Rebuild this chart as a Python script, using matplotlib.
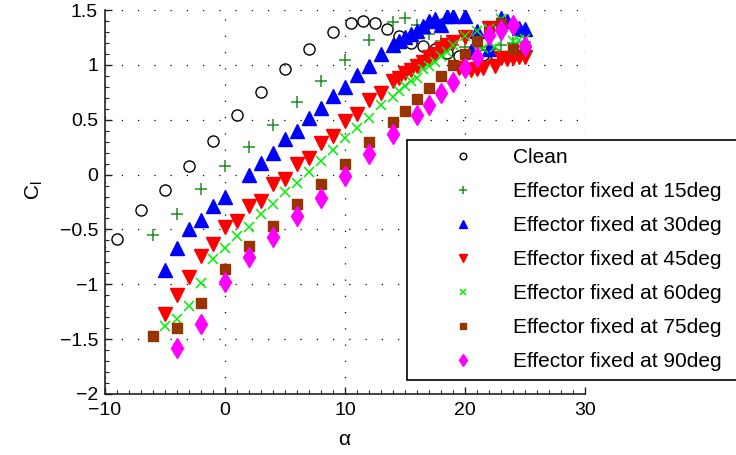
import numpy as np
import matplotlib
matplotlib.use("Agg")
import matplotlib.pyplot as plt
from matplotlib.ticker import MultipleLocator, FuncFormatter

plt.rcParams['font.family'] = ['Liberation Sans', 'DejaVu Sans']
plt.rcParams['mathtext.default'] = 'regular'

# angle of attack [deg] and lift coefficient for each configuration
a_clean = [-9, -7, -5, -3, -1, 1, 3, 5, 7, 9, 10.5, 11.5, 12.5, 13.5, 14.5,
           15.5, 16.5, 17.5, 18.5, 19.5, 20.5, 21.5, 22.5]
cl_clean = [-0.59, -0.32, -0.145, 0.08, 0.31, 0.54, 0.755, 0.96, 1.145, 1.30,
            1.38, 1.40, 1.38, 1.33, 1.265, 1.20, 1.17, 1.14, 1.11, 1.08, 1.06,
            1.09, 1.10]

a_15 = [-6, -4, -2, 0, 2, 4, 6, 8, 10, 12, 14, 15, 16, 17, 18, 19, 20, 21,
        22, 23, 24, 25]
cl_15 = [-0.555, -0.355, -0.13, 0.075, 0.255, 0.455, 0.665, 0.855, 1.045,
         1.23, 1.39, 1.43, 1.36, 1.28, 1.22, 1.18, 1.16, 1.15, 1.16, 1.18,
         1.20, 1.21]

a_30 = [-5, -4, -3, -2, -1, 0, 2, 3, 4, 5, 6, 7, 8, 9, 10, 11, 12, 13, 14,
        14.5, 15, 15.5, 16, 16.5, 17, 17.5, 18, 18.5, 19, 20, 20.5, 21, 22,
        23, 23.5, 24.5, 25]
cl_30 = [-0.87, -0.67, -0.5, -0.41, -0.29, -0.2, 0.0, 0.11, 0.2, 0.32, 0.4,
         0.52, 0.61, 0.72, 0.8, 0.91, 0.99, 1.1, 1.18, 1.22, 1.25, 1.28, 1.31,
         1.35, 1.4, 1.415, 1.36, 1.445, 1.445, 1.445, 1.13, 1.31, 1.14, 1.43,
         1.4, 1.34, 1.33]

a_45 = [-5, -4, -3, -2, -1, 0, 1, 2, 3, 4, 5, 6, 7, 8, 9, 10, 11, 12, 13,
        14, 14.5, 15, 15.5, 16, 16.5, 17, 17.5, 18, 18.5, 19, 19.5, 20, 20.5,
        21, 21.5, 22, 22.5, 23, 23.5, 24, 24.5, 25]
cl_45 = [-1.27, -1.1, -0.93, -0.745, -0.63, -0.48, -0.42, -0.29, -0.24,
         -0.09, -0.04, 0.1, 0.155, 0.29, 0.355, 0.49, 0.55, 0.68, 0.74,
         0.85, 0.88, 0.93, 0.95, 0.99, 1.03, 1.07, 1.1, 1.14, 1.18, 1.21,
         0.97, 1.25, 0.95, 0.96, 0.975, 1.34, 0.99, 1.06, 1.05, 1.06, 1.07,
         1.07]

a_60 = [-5, -4, -3, -2, -1, 0, 1, 2, 3, 4, 5, 6, 7, 8, 9, 10, 11, 12, 13,
        14, 14.5, 15, 15.5, 16, 16.5, 17, 17.5, 18, 18.5, 19, 20, 21, 21.5,
        22, 22.5, 23, 24, 24.5, 25]
cl_60 = [-1.38, -1.32, -1.2, -0.99, -0.77, -0.67, -0.56, -0.48, -0.36,
         -0.27, -0.155, -0.08, 0.02, 0.12, 0.22, 0.33, 0.42, 0.52, 0.63,
         0.71, 0.76, 0.81, 0.85, 0.88, 0.96, 0.99, 1.03, 1.08, 1.12, 1.18,
         1.26, 1.31, 1.15, 1.33, 1.16, 1.42, 1.22, 1.23, 1.24]

a_75 = [-6, -4, -2, 0, 2, 4, 6, 8, 10, 12, 14, 15, 16, 17, 18, 19, 20, 21,
        22, 23, 24, 25]
cl_75 = [-1.47, -1.4, -1.17, -0.86, -0.65, -0.465, -0.27, -0.09, 0.1, 0.3,
         0.475, 0.58, 0.69, 0.79, 0.9, 1.0, 1.1, 1.22, 1.3, 1.385, 1.14, 1.14]

a_90 = [-4, -2, 0, 2, 4, 6, 8, 10, 12, 14, 16, 17, 18, 19, 20, 21, 22, 23,
        24, 25]
cl_90 = [-1.58, -1.36, -0.98, -0.755, -0.57, -0.38, -0.215, -0.01, 0.19,
         0.37, 0.545, 0.63, 0.74, 0.84, 0.975, 1.075, 1.27, 1.32, 1.36, 1.17]

labels = ['Clean', 'Effector fixed at 15deg', 'Effector fixed at 30deg',
          'Effector fixed at 45deg', 'Effector fixed at 60deg',
          'Effector fixed at 75deg', 'Effector fixed at 90deg']


def tick_fmt(v, pos):
    return ('%g' % v).replace('-', '\u2212')


fig = plt.figure(figsize=(7.36, 4.55), dpi=100)
ax = fig.add_axes([105 / 736, 1 - 394 / 455, 480 / 736, 384 / 455])

ax.plot(a_clean, cl_clean, 'o', ms=8, mfc='none', mec='k', mew=1.0, label=labels[0])
ax.plot(a_15, cl_15, '+', ms=9, color='#228b22', mew=1.1, label=labels[1])
ax.plot(a_30, cl_30, '^', ms=9.5, color='b', mec='b', label=labels[2])
ax.plot(a_45, cl_45, 'v', ms=9.5, color='r', mec='r', label=labels[3])
ax.plot(a_60, cl_60, 'x', ms=7, color='#00ee00', mew=1.1, label=labels[4])
ax.plot(a_75, cl_75, 's', ms=7.5, color='#993300', mec='#993300', label=labels[5])
ax.plot(a_90, cl_90, 'd', ms=10, color='#ff00ff', mec='#ff00ff', label=labels[6])

ax.set_xlim(-10, 30)
ax.set_ylim(-2, 1.5)
ax.xaxis.set_major_locator(MultipleLocator(10))
ax.xaxis.set_minor_locator(MultipleLocator(1))
ax.yaxis.set_major_locator(MultipleLocator(0.5))
ax.yaxis.set_minor_locator(MultipleLocator(0.1))
ax.xaxis.set_major_formatter(FuncFormatter(tick_fmt))
ax.yaxis.set_major_formatter(FuncFormatter(tick_fmt))
ax.grid(True, which='major', color='k', linestyle=(0, (1, 12)), linewidth=0.9)

for side in ('top', 'right'):
    ax.spines[side].set_visible(False)
for side in ('left', 'bottom'):
    ax.spines[side].set_linewidth(1.2)
    ax.spines[side].set_color('#222222')
ax.tick_params(which='both', direction='in', labelsize=14, colors='#222222',
               labelcolor='black')
ax.tick_params(which='major', length=5, width=1)
ax.tick_params(which='minor', length=3, width=0.8)
ax.tick_params(axis='x', which='major', pad=6)
ax.tick_params(axis='y', which='major', pad=5)

ax.set_xlabel(r'$\alpha$', fontsize=15)
ax.set_ylabel('$C_l$', fontsize=15)
ax.xaxis.set_label_coords(0.5, -0.095)
ax.yaxis.set_label_coords(-0.125, 0.53)

leg = ax.legend(loc='upper left',
                bbox_to_anchor=(407 / 736, 1 - 140 / 455 - 0.1, 0.6, 0.1),
                bbox_transform=fig.transFigure, mode='expand', borderaxespad=0,
                fontsize=15, markerscale=0.6, numpoints=1, handlelength=4.6,
                handletextpad=0.1, borderpad=0.4, labelspacing=0.72,
                fancybox=False, framealpha=1, edgecolor='k')
leg.get_frame().set_linewidth(1.2)

fig.savefig('out.png', dpi=100)
